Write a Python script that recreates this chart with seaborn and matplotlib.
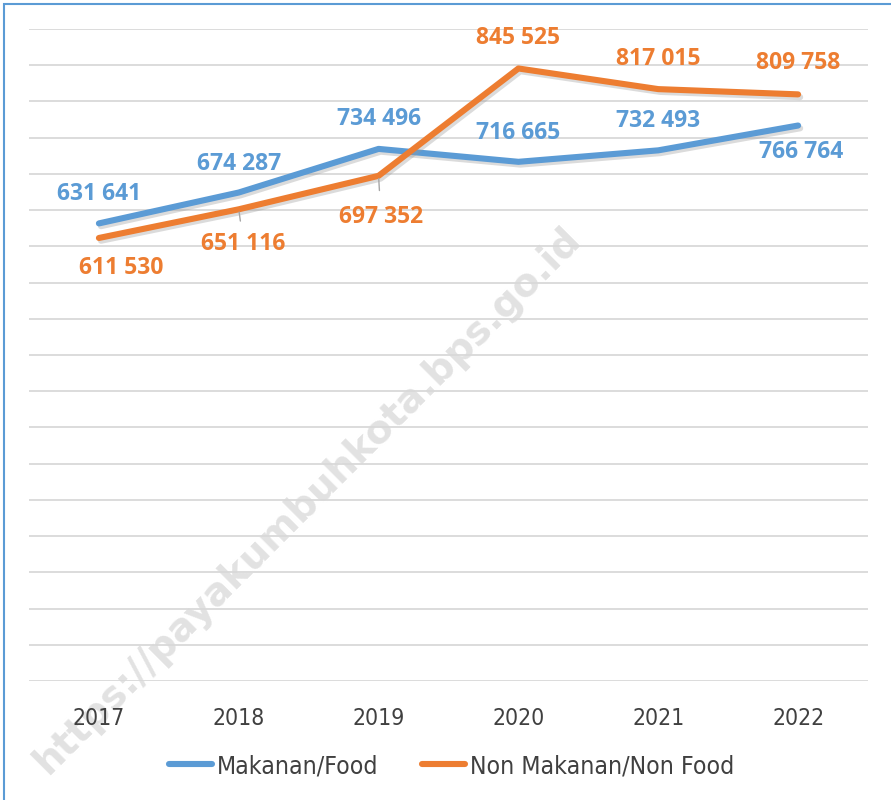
import pandas as pd
import matplotlib.pyplot as plt
import matplotlib.patheffects as pe
import seaborn as sns

years = ["2017", "2018", "2019", "2020", "2021", "2022"]
food = [631641, 674287, 734496, 716665, 732493, 766764]
non_food = [611530, 651116, 697352, 845525, 817015, 809758]
series_names = ["Makanan/Food", "Non Makanan/Non Food"]
colors = {"Makanan/Food": "#5B9BD5", "Non Makanan/Non Food": "#ED7D31"}

# label offsets in pixels (dx, dy) relative to each point
food_off = [(0, 29), (0, 29), (0, 30), (0, 29), (0, 29), (3, -26)]
non_food_off = [(22, -30), (4, -35), (2, -41), (0, 30), (0, 30), (0, 31)]

df = pd.DataFrame({
    "x": list(range(len(years))) * 2,
    "value": food + non_food,
    "series": [series_names[0]] * len(years) + [series_names[1]] * len(years),
})

sns.set_style("white")
plt.rcParams["font.family"] = ["Open Sans", "DejaVu Sans"]

fig = plt.figure(figsize=(8.91, 8.0), dpi=100)

# watermark behind the chart
fig.text(308 / 891, 1 - 500 / 800, "https://payakumbuhkota.bps.go.id", rotation=45,
         ha="center", va="center", fontsize=28, fontweight="bold",
         color="#e2e2e2", family=["DejaVu Sans"], zorder=0)

ax = fig.add_axes([29 / 891, 1 - 681 / 800, (868 - 29) / 891, (681 - 29) / 800])
ax.set_zorder(1)
ax.patch.set_alpha(0)

shadow = [pe.SimpleLineShadow(offset=(1.5, -2), shadow_color="#999999", alpha=0.35), pe.Normal()]
sns.lineplot(data=df, x="x", y="value", hue="series", palette=colors, linewidth=4.4,
             ax=ax, legend=False, path_effects=shadow)
for line in ax.lines:
    line.set_solid_capstyle("round")

ax.set_xlim(-0.5, len(years) - 0.5)
ax.set_ylim(0, 900000)
ax.set_yticks(range(0, 900001, 50000))
ax.set_yticklabels([])
ax.tick_params(axis="y", length=0)
ax.grid(axis="y", color="#d9d9d9", linewidth=1.3)
ax.set_axisbelow(True)
ax.set_xticks(range(len(years)))
ax.set_xticklabels(years, fontsize=16.5, color="#404040", family=["DejaVu Sans"], fontstretch="condensed")
ax.tick_params(axis="x", length=0, pad=19)
ax.set_xlabel("")
ax.set_ylabel("")
for s in ax.spines.values():
    s.set_visible(False)

# data labels
for vals, offs, name in [(food, food_off, series_names[0]), (non_food, non_food_off, series_names[1])]:
    for i, (v, (dx, dy)) in enumerate(zip(vals, offs)):
        ax.annotate(f"{v:,}".replace(",", " "), (i, v), xytext=(dx, dy), textcoords="offset pixels",
                    ha="center", va="center", fontsize=16.5, fontweight="bold", color=colors[name])

# leader lines for the two crowded labels
for i in [1, 2]:
    v = non_food[i]
    ax.annotate("", (i, v), xytext=(non_food_off[i][0] * 0.5, non_food_off[i][1] * 0.5 + 3),
                textcoords="offset pixels",
                arrowprops=dict(arrowstyle="-", color="#a6a6a6", lw=1))

# legend
handles = [plt.Line2D([], [], color=colors[n], linewidth=4.4, solid_capstyle="round") for n in series_names]
leg = fig.legend(handles, series_names, loc="center", bbox_to_anchor=(0.5 + 6 / 891, 1 - 766 / 800), ncol=2,
                 frameon=False, handlelength=1.75, handletextpad=0.2, columnspacing=1.75,
                 prop={"family": ["DejaVu Sans"], "size": 17.8, "stretch": "condensed"})
for t in leg.get_texts():
    t.set_color("#404040")

# chart border
border = plt.Rectangle((4 / 891, -0.05), 1.2, 1 - 4 / 800 + 0.05, transform=fig.transFigure,
                       fill=False, edgecolor="#5B9BD5", linewidth=1.5)
fig.patches.append(border)

fig.savefig("out.png", dpi=100)
